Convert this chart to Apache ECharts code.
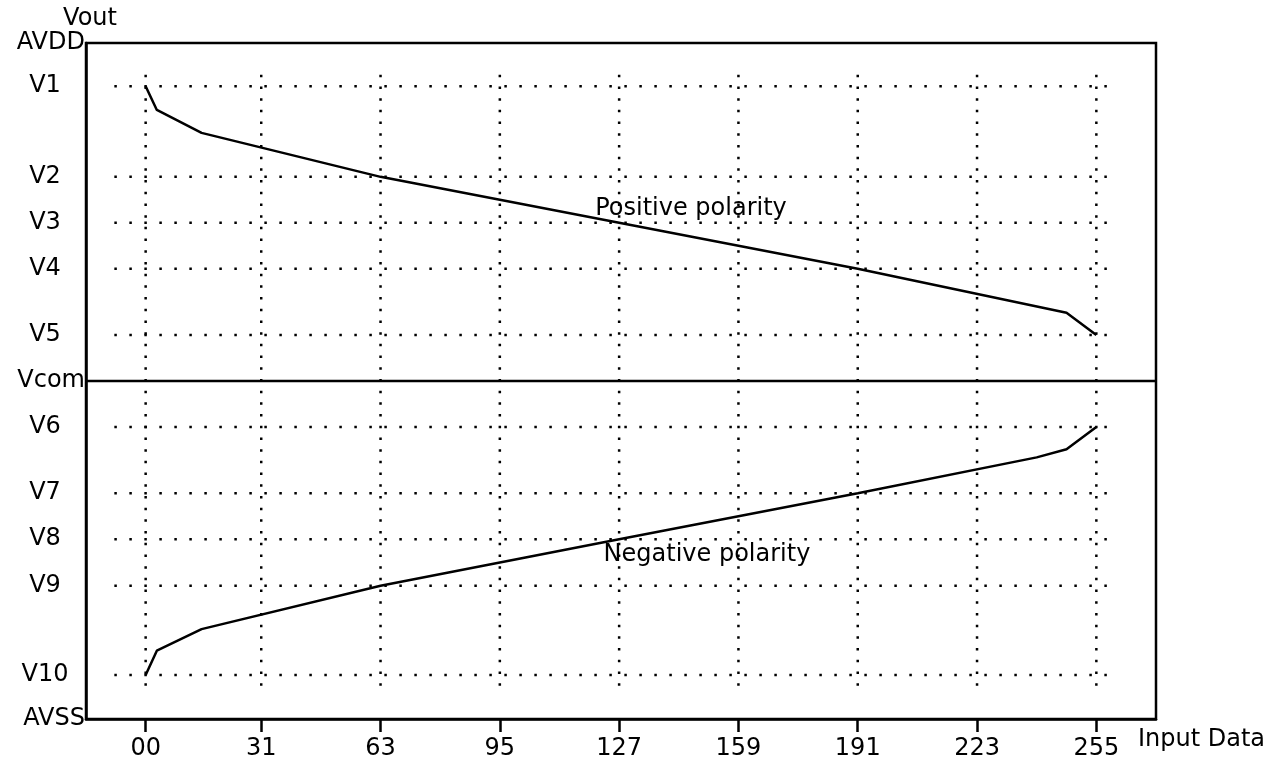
<!DOCTYPE html>
<html>
<head>
<meta charset="utf-8">
<title>Vout - Input Data</title>
<script src="https://cdn.jsdelivr.net/npm/echarts@6/dist/echarts.min.js"></script>
<style>
  html, body { margin: 0; padding: 0; background: #fff; }
  #main { width: 1284px; height: 760px; }
</style>
</head>
<body>
<div id="main"></div>
<script>
// x ticks (input data code)
var inputTicks = [0, 31, 63, 95, 127, 159, 191, 223, 255];
var inputTickLabels = ['00', '31', '63', '95', '127', '159', '191', '223', '255'];

// rails, AVSS = 0 ... AVDD = 100
var railNames = ['AVSS', 'Vcom', 'AVDD'];
var railValues = [0, 50, 100];

// gamma reference levels
var levelNames = ['V1', 'V2', 'V3', 'V4', 'V5', 'V6', 'V7', 'V8', 'V9', 'V10'];
var levelValues = [93.6, 80.2, 73.4, 66.6, 56.8, 43.2, 33.4, 26.6, 19.7, 6.5];

// positive polarity curve
var posInput = [0, 3, 15, 63, 127, 191, 247, 255];
var posVout = [93.6, 90.1, 86.7, 80.2, 73.4, 66.6, 60.1, 56.8];

// negative polarity curve
var negInput = [0, 3, 15, 63, 127, 191, 239, 247, 255];
var negVout = [6.5, 10.1, 13.3, 19.7, 26.6, 33.4, 38.7, 39.9, 43.2];

var FONT = '"DejaVu Sans", "Liberation Sans", Arial, sans-serif';
var FS = 24;
var xMin = -16, xMax = 271;

function pairs(xs, ys) {
  var out = [];
  for (var i = 0; i < xs.length; i++) out.push([xs[i], ys[i]]);
  return out;
}

var series = [];

// dotted horizontal grid at each level
for (var i = 0; i < levelValues.length; i++) {
  series.push({
    type: 'line', silent: true, symbol: 'none', z: 1,
    data: [[-8.4, levelValues[i]], [260, levelValues[i]]],
    lineStyle: { color: '#000', width: 2.5, type: [2.5, 12.5] }
  });
}
// dotted vertical grid at each tick
for (var j = 0; j < inputTicks.length; j++) {
  series.push({
    type: 'line', silent: true, symbol: 'none', z: 1,
    data: [[inputTicks[j], 95.3], [inputTicks[j], 4.3]],
    lineStyle: { color: '#000', width: 2.5, type: [2.5, 9.2] }
  });
}
// Vcom line
series.push({
  type: 'line', silent: true, symbol: 'none', z: 2,
  data: [[xMin, railValues[1]], [xMax, railValues[1]]],
  lineStyle: { color: '#000', width: 2.5 }
});
// curves
series.push({
  name: 'Positive polarity', type: 'line', symbol: 'none', z: 3,
  data: pairs(posInput, posVout),
  lineStyle: { color: '#000', width: 2.5 }
});
series.push({
  name: 'Negative polarity', type: 'line', symbol: 'none', z: 3,
  data: pairs(negInput, negVout),
  lineStyle: { color: '#000', width: 2.5 }
});

var option = {
  backgroundColor: '#fff',
  animation: false,
  grid: {
    left: 86, right: 128, top: 43, bottom: 41,
    show: true, borderColor: '#000', borderWidth: 2.5,
    containLabel: false, outerBoundsMode: 'none'
  },
  xAxis: {
    type: 'value', min: xMin, max: xMax,
    axisLine: { show: true, onZero: false, lineStyle: { color: '#000', width: 2.5 } },
    axisTick: { show: true, customValues: inputTicks, length: 13, lineStyle: { color: '#000', width: 2.5 } },
    axisLabel: {
      customValues: inputTicks,
      formatter: function (v) { return inputTickLabels[inputTicks.indexOf(v)]; },
      color: '#000', fontSize: FS, fontFamily: FONT, margin: 18
    },
    splitLine: { show: false },
    name: 'Input Data', nameLocation: 'end', nameGap: -18,
    nameTextStyle: { color: '#000', fontSize: FS, fontFamily: FONT, align: 'left', verticalAlign: 'top', padding: [9, 0, 0, 0] }
  },
  yAxis: [
    {
      type: 'value', min: 0, max: 100, position: 'left',
      axisLine: { show: true, onZero: false, lineStyle: { color: '#000', width: 2.5 } },
      axisTick: { show: false },
      axisLabel: {
        customValues: railValues,
        formatter: function (v) { return railNames[railValues.indexOf(v)]; },
        color: '#000', fontSize: FS, fontFamily: FONT, margin: 1
      },
      splitLine: { show: false },
      name: 'Vout', nameLocation: 'end', nameGap: 7,
      nameTextStyle: { color: '#000', fontSize: FS, fontFamily: FONT, align: 'center', padding: [0, 0, 0, 8] }
    },
    {
      type: 'value', min: 0, max: 100, position: 'left', offset: 0,
      axisLine: { show: false },
      axisTick: { show: false },
      axisLabel: {
        customValues: levelValues,
        formatter: function (v) { return levelNames[levelValues.indexOf(v)]; },
        color: '#000', fontSize: FS, fontFamily: FONT, margin: 41, align: 'center'
      },
      splitLine: { show: false }
    }
  ],
  graphic: [
    {
      type: 'text', x: 691, y: 209, z: 10,
      style: { text: 'Positive polarity', fill: '#000', font: FS + 'px ' + FONT, align: 'center', verticalAlign: 'middle', textAlign: 'center', textVerticalAlign: 'middle' }
    },
    {
      type: 'text', x: 707, y: 555, z: 10,
      style: { text: 'Negative polarity', fill: '#000', font: FS + 'px ' + FONT, align: 'center', verticalAlign: 'middle', textAlign: 'center', textVerticalAlign: 'middle' }
    }
  ],
  series: series
};

var chart = echarts.init(document.getElementById('main'));
chart.setOption(option);
</script>
</body>
</html>
